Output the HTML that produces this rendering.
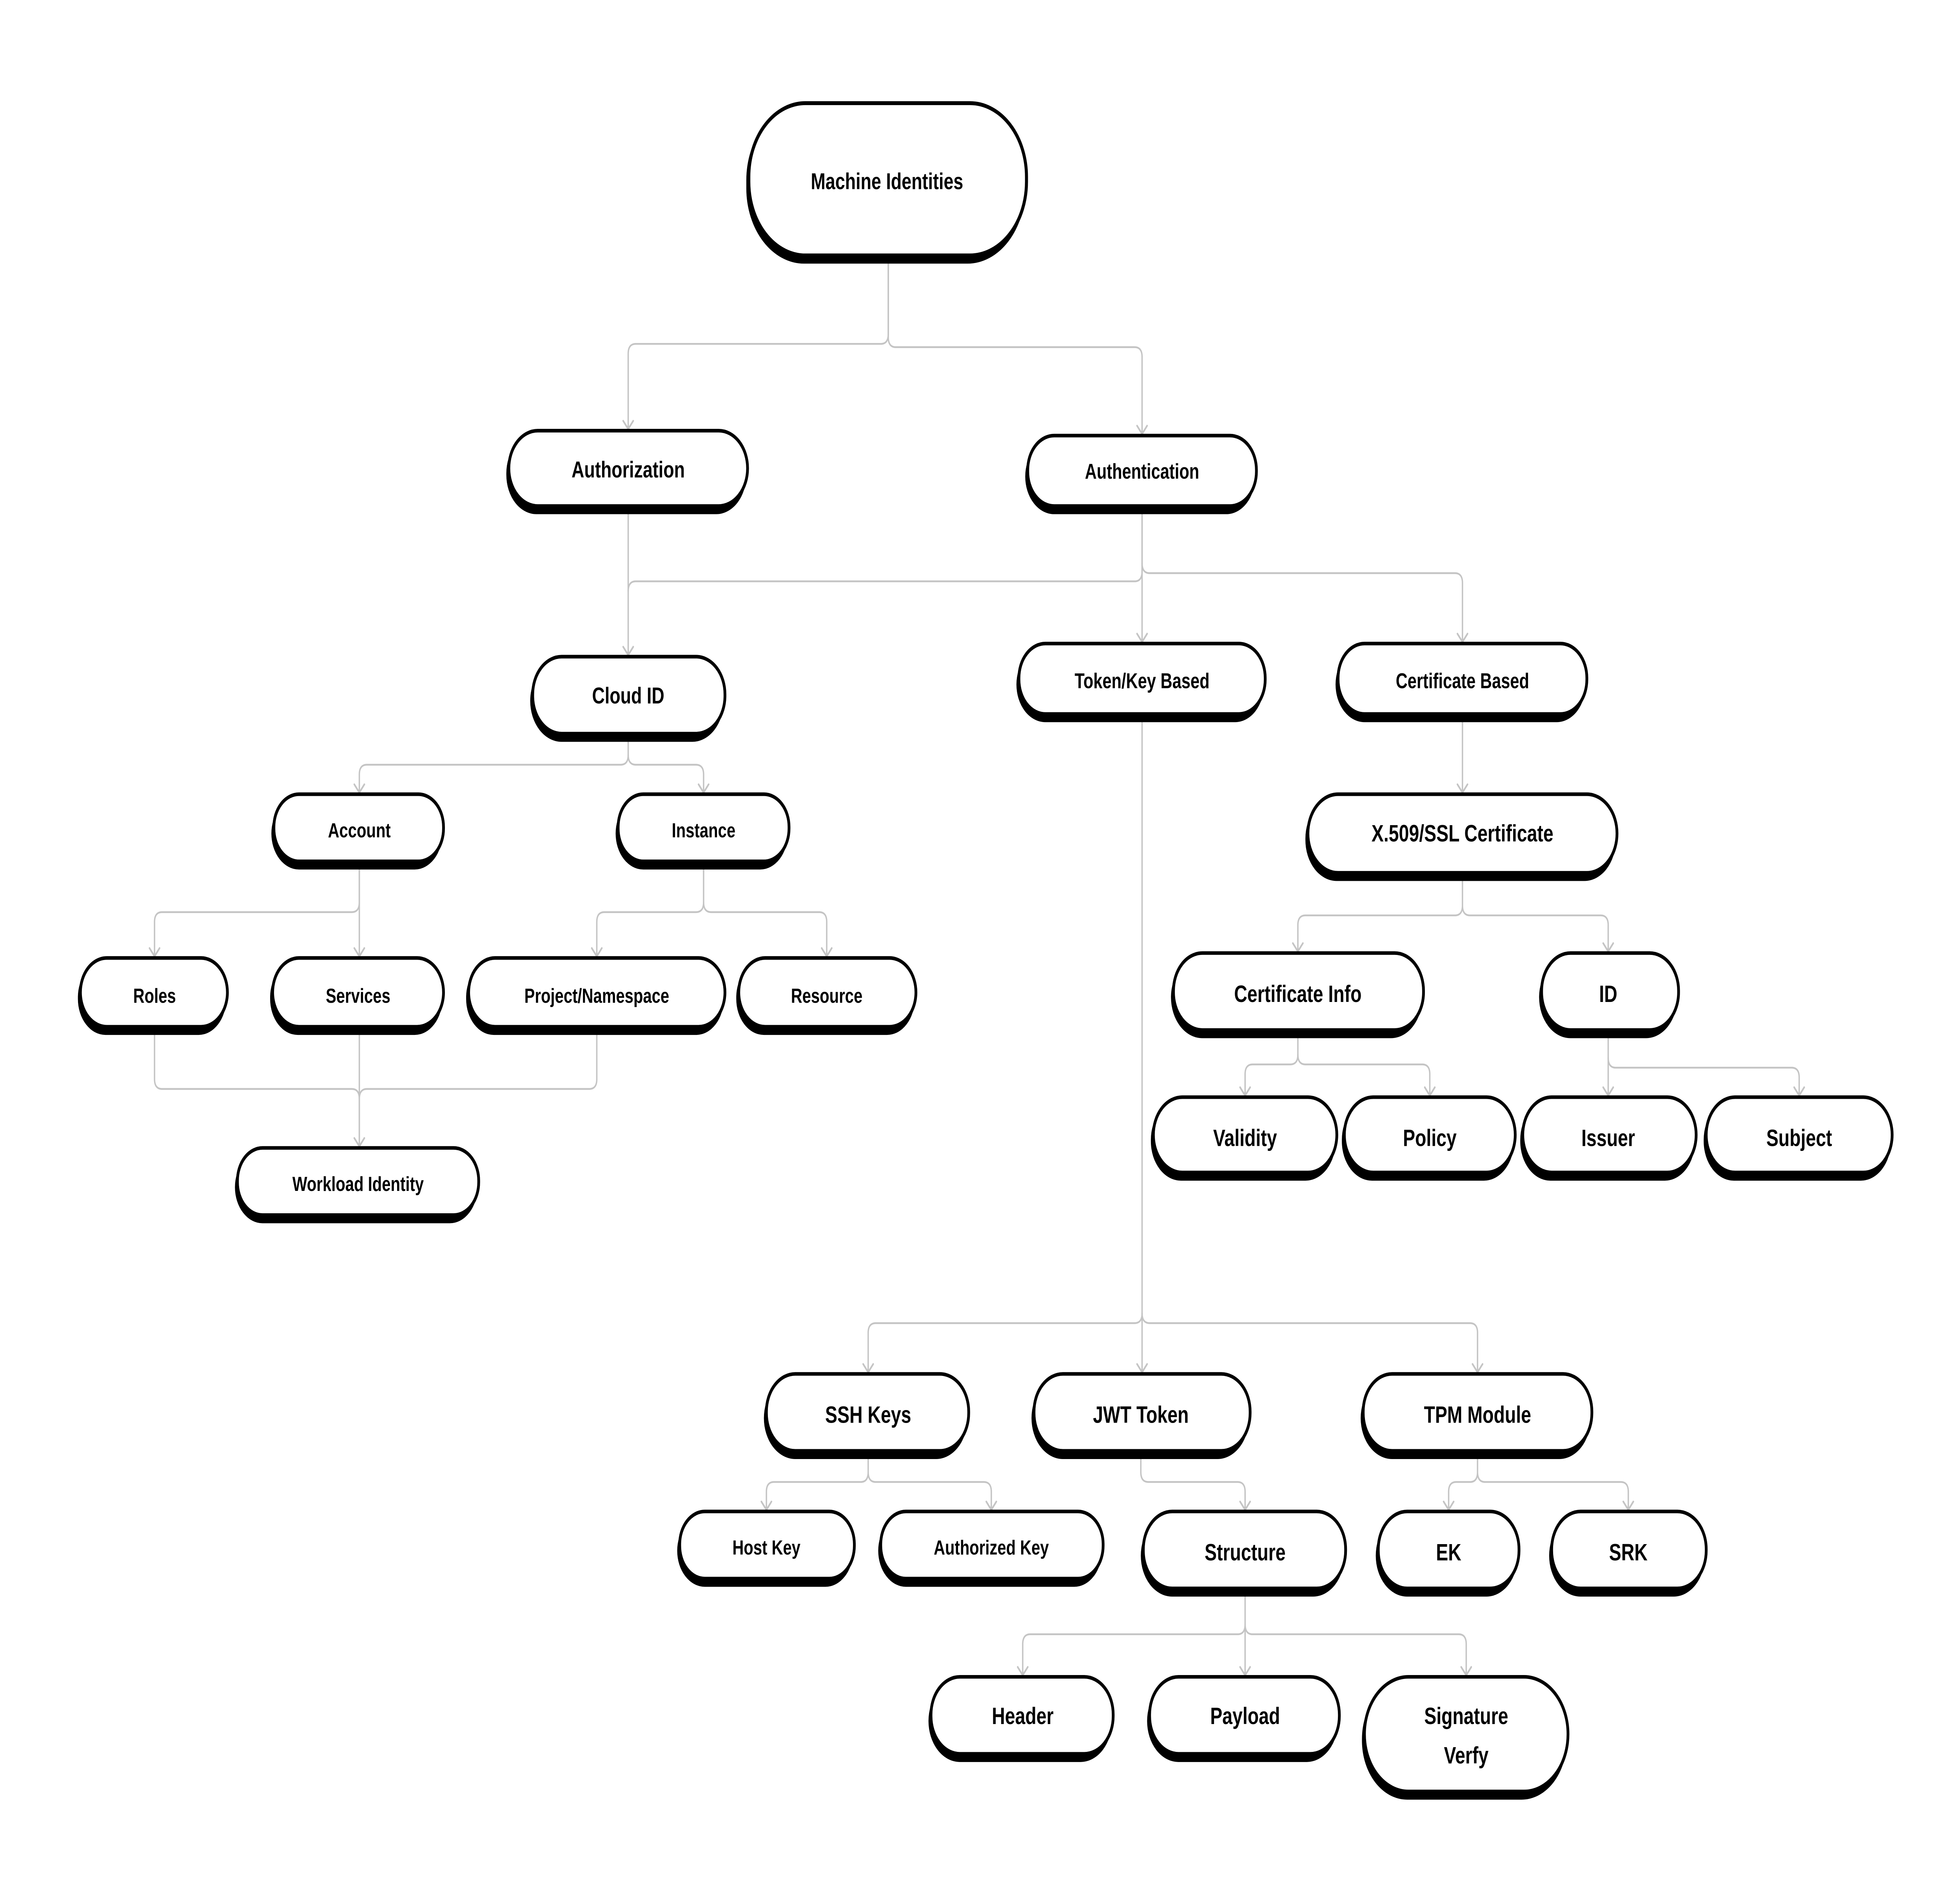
<!DOCTYPE html>
<html><head><meta charset="utf-8"><style>
html,body{margin:0;padding:0;background:#fff;width:100%;height:100%;overflow:hidden;}
svg{display:block;width:100vw;height:100vh;}
text{font-family:"Liberation Sans",sans-serif;font-weight:bold;fill:#000;text-anchor:middle;dominant-baseline:central;}
</style></head><body>
<svg viewBox="0 0 1560 1156" preserveAspectRatio="none" xmlns="http://www.w3.org/2000/svg">
<rect width="1560" height="1156" fill="#fff"/>
<defs>
<symbol id="a" overflow="visible"><polyline points="-4,-5 0,0 4,-5" fill="none" stroke="#c4c4c4" stroke-width="1.2" stroke-linecap="round" stroke-linejoin="round"/></symbol>
</defs>
<g fill="none" stroke="#c4c4c4" stroke-width="1.1" stroke-linecap="round">
<path d="M707 160 V204 Q707 210 701 210 H506 Q500 210 500 216 V262"/>
<path d="M707 160 V206 Q707 212 713 212 H903 Q909 212 909 218 V265"/>
<path d="M500 313 V400"/>
<path d="M909 313 V349 Q909 355 903 355 H506 Q500 355 500 361"/>
<path d="M909 313 V392"/>
<path d="M909 344 Q909 350 915 350 H1158 Q1164 350 1164 356 V392"/>
<path d="M500 452 V461 Q500 467 494 467 H292 Q286 467 286 473 V484"/>
<path d="M500 461 Q500 467 506 467 H554 Q560 467 560 473 V484"/>
<path d="M286 530 V551 Q286 557 280 557 H129 Q123 557 123 563 V584"/>
<path d="M286 530 V584"/>
<path d="M560 530 V551 Q560 557 554 557 H481 Q475 557 475 563 V584"/>
<path d="M560 551 Q560 557 566 557 H652 Q658 557 658 563 V584"/>
<path d="M123 631 V659 Q123 665 129 665 H280 Q286 665 286 671 V700"/>
<path d="M475 631 V659 Q475 665 469 665 H292 Q286 665 286 671"/>
<path d="M286 631 V700"/>
<path d="M909 440 V838"/>
<path d="M909 802 Q909 808 903 808 H697 Q691 808 691 814 V838"/>
<path d="M909 802 Q909 808 915 808 H1170 Q1176 808 1176 814 V838"/>
<path d="M1164 440 V484"/>
<path d="M1164 537 V553 Q1164 559 1158 559 H1039 Q1033 559 1033 565 V581"/>
<path d="M1164 553 Q1164 559 1170 559 H1274 Q1280 559 1280 565 V581"/>
<path d="M1033 633 V644 Q1033 650 1027 650 H997 Q991 650 991 656 V669"/>
<path d="M1033 644 Q1033 650 1039 650 H1132 Q1138 650 1138 656 V669"/>
<path d="M1280 633 V669"/>
<path d="M1280 646 Q1280 652 1286 652 H1426 Q1432 652 1432 658 V669"/>
<path d="M691 890 V899 Q691 905 685 905 H616 Q610 905 610 911 V922"/>
<path d="M691 899 Q691 905 697 905 H783 Q789 905 789 911 V922"/>
<path d="M908 890 V899 Q908 905 914 905 H985 Q991 905 991 911 V922"/>
<path d="M1176 890 V899 Q1176 905 1170 905 H1159 Q1153 905 1153 911 V922"/>
<path d="M1176 899 Q1176 905 1182 905 H1290 Q1296 905 1296 911 V922"/>
<path d="M991 974 V992 Q991 998 985 998 H820 Q814 998 814 1004 V1023"/>
<path d="M991 974 V1023"/>
<path d="M991 992 Q991 998 997 998 H1161 Q1167 998 1167 1004 V1023"/>
</g>
<g>
<use href="#a" x="500" y="262"/><use href="#a" x="909" y="265"/><use href="#a" x="500" y="400"/><use href="#a" x="909" y="392"/><use href="#a" x="1164" y="392"/>
<use href="#a" x="286" y="484"/><use href="#a" x="560" y="484"/><use href="#a" x="123" y="584"/><use href="#a" x="286" y="584"/><use href="#a" x="475" y="584"/><use href="#a" x="658" y="584"/><use href="#a" x="286" y="700"/>
<use href="#a" x="691" y="838"/><use href="#a" x="909" y="838"/><use href="#a" x="1176" y="838"/><use href="#a" x="1164" y="484"/><use href="#a" x="1033" y="581"/><use href="#a" x="1280" y="581"/>
<use href="#a" x="991" y="669"/><use href="#a" x="1138" y="669"/><use href="#a" x="1280" y="669"/><use href="#a" x="1432" y="669"/>
<use href="#a" x="610" y="922"/><use href="#a" x="789" y="922"/><use href="#a" x="991" y="922"/><use href="#a" x="1153" y="922"/><use href="#a" x="1296" y="922"/>
<use href="#a" x="814" y="1023"/><use href="#a" x="991" y="1023"/><use href="#a" x="1167" y="1023"/>
</g>
<g>
<g><rect x="594" y="64" width="222" height="97" rx="46" fill="#000"/><rect x="596" y="63" width="221" height="93" rx="45" fill="#fff" stroke="#000" stroke-width="2.4"/><text x="706" y="111" font-size="14">Machine Identities</text></g>
<g><rect x="403" y="265" width="191" height="49" rx="24" fill="#000"/><rect x="405" y="263" width="190" height="46" rx="23" fill="#fff" stroke="#000" stroke-width="2.2"/><text x="500" y="287" font-size="14">Authorization</text></g>
<g><rect x="816" y="268" width="183" height="46" rx="23" fill="#000"/><rect x="818" y="266" width="182" height="43" rx="21" fill="#fff" stroke="#000" stroke-width="2.2"/><text x="909" y="288" font-size="13">Authentication</text></g>
<g><rect x="422" y="403" width="154" height="50" rx="25" fill="#000"/><rect x="424" y="401" width="153" height="47" rx="23" fill="#fff" stroke="#000" stroke-width="2.2"/><text x="500" y="425" font-size="14">Cloud ID</text></g>
<g><rect x="809" y="395" width="197" height="46" rx="23" fill="#000"/><rect x="811" y="393" width="196" height="43" rx="21" fill="#fff" stroke="#000" stroke-width="2.2"/><text x="909" y="416" font-size="13">Token/Key Based</text></g>
<g><rect x="1063" y="395" width="199" height="46" rx="23" fill="#000"/><rect x="1065" y="393" width="198" height="43" rx="21" fill="#fff" stroke="#000" stroke-width="2.2"/><text x="1164" y="416" font-size="13">Certificate Based</text></g>
<g><rect x="216" y="487" width="136" height="44" rx="22" fill="#000"/><rect x="218" y="485" width="135" height="41" rx="20" fill="#fff" stroke="#000" stroke-width="2.2"/><text x="286" y="507" font-size="12.5">Account</text></g>
<g><rect x="490" y="487" width="137" height="44" rx="22" fill="#000"/><rect x="492" y="485" width="136" height="41" rx="20" fill="#fff" stroke="#000" stroke-width="2.2"/><text x="560" y="507" font-size="12.5">Instance</text></g>
<g><rect x="1039" y="487" width="247" height="51" rx="25" fill="#000"/><rect x="1041" y="485" width="246" height="48" rx="24" fill="#fff" stroke="#000" stroke-width="2.2"/><text x="1164" y="509" font-size="14.5">X.509/SSL Certificate</text></g>
<g><rect x="62" y="587" width="118" height="45" rx="22" fill="#000"/><rect x="64" y="585" width="117" height="42" rx="21" fill="#fff" stroke="#000" stroke-width="2.2"/><text x="123" y="608" font-size="12.5">Roles</text></g>
<g><rect x="215" y="587" width="137" height="45" rx="22" fill="#000"/><rect x="217" y="585" width="136" height="42" rx="21" fill="#fff" stroke="#000" stroke-width="2.2"/><text x="285" y="608" font-size="12.5">Services</text></g>
<g><rect x="371" y="587" width="205" height="45" rx="22" fill="#000"/><rect x="373" y="585" width="204" height="42" rx="21" fill="#fff" stroke="#000" stroke-width="2.2"/><text x="475" y="608" font-size="12.5">Project/Namespace</text></g>
<g><rect x="586" y="587" width="142" height="45" rx="22" fill="#000"/><rect x="588" y="585" width="141" height="42" rx="21" fill="#fff" stroke="#000" stroke-width="2.2"/><text x="658" y="608" font-size="12.5">Resource</text></g>
<g><rect x="932" y="584" width="200" height="50" rx="25" fill="#000"/><rect x="934" y="582" width="199" height="47" rx="23" fill="#fff" stroke="#000" stroke-width="2.2"/><text x="1033" y="607" font-size="14.5">Certificate Info</text></g>
<g><rect x="1225" y="584" width="110" height="50" rx="25" fill="#000"/><rect x="1227" y="582" width="109" height="47" rx="23" fill="#fff" stroke="#000" stroke-width="2.2"/><text x="1280" y="607" font-size="14.5">ID</text></g>
<g><rect x="187" y="703" width="193" height="44" rx="22" fill="#000"/><rect x="189" y="701" width="192" height="41" rx="20" fill="#fff" stroke="#000" stroke-width="2.2"/><text x="285" y="723" font-size="12.5">Workload Identity</text></g>
<g><rect x="916" y="672" width="147" height="49" rx="24" fill="#000"/><rect x="918" y="670" width="146" height="46" rx="23" fill="#fff" stroke="#000" stroke-width="2.2"/><text x="991" y="695" font-size="14.5">Validity</text></g>
<g><rect x="1068" y="672" width="137" height="49" rx="24" fill="#000"/><rect x="1070" y="670" width="136" height="46" rx="23" fill="#fff" stroke="#000" stroke-width="2.2"/><text x="1138" y="695" font-size="14.5">Policy</text></g>
<g><rect x="1210" y="672" width="139" height="49" rx="24" fill="#000"/><rect x="1212" y="670" width="138" height="46" rx="23" fill="#fff" stroke="#000" stroke-width="2.2"/><text x="1280" y="695" font-size="14.5">Issuer</text></g>
<g><rect x="1356" y="672" width="149" height="49" rx="24" fill="#000"/><rect x="1358" y="670" width="148" height="46" rx="23" fill="#fff" stroke="#000" stroke-width="2.2"/><text x="1432" y="695" font-size="14.5">Subject</text></g>
<g><rect x="608" y="841" width="162" height="50" rx="25" fill="#000"/><rect x="610" y="839" width="161" height="47" rx="23" fill="#fff" stroke="#000" stroke-width="2.2"/><text x="691" y="864" font-size="14.5">SSH Keys</text></g>
<g><rect x="821" y="841" width="173" height="50" rx="25" fill="#000"/><rect x="823" y="839" width="172" height="47" rx="23" fill="#fff" stroke="#000" stroke-width="2.2"/><text x="908" y="864" font-size="14.5">JWT Token</text></g>
<g><rect x="1083" y="841" width="183" height="50" rx="25" fill="#000"/><rect x="1085" y="839" width="182" height="47" rx="23" fill="#fff" stroke="#000" stroke-width="2.2"/><text x="1176" y="864" font-size="14.5">TPM Module</text></g>
<g><rect x="539" y="925" width="140" height="44" rx="22" fill="#000"/><rect x="541" y="923" width="139" height="41" rx="20" fill="#fff" stroke="#000" stroke-width="2.2"/><text x="610" y="945" font-size="12.5">Host Key</text></g>
<g><rect x="699" y="925" width="178" height="44" rx="22" fill="#000"/><rect x="701" y="923" width="177" height="41" rx="20" fill="#fff" stroke="#000" stroke-width="2.2"/><text x="789" y="945" font-size="12.5">Authorized Key</text></g>
<g><rect x="908" y="925" width="162" height="50" rx="25" fill="#000"/><rect x="910" y="923" width="161" height="47" rx="23" fill="#fff" stroke="#000" stroke-width="2.2"/><text x="991" y="948" font-size="14.5">Structure</text></g>
<g><rect x="1095" y="925" width="113" height="50" rx="25" fill="#000"/><rect x="1097" y="923" width="112" height="47" rx="23" fill="#fff" stroke="#000" stroke-width="2.2"/><text x="1153" y="948" font-size="14.5">EK</text></g>
<g><rect x="1233" y="925" width="124" height="50" rx="25" fill="#000"/><rect x="1235" y="923" width="123" height="47" rx="23" fill="#fff" stroke="#000" stroke-width="2.2"/><text x="1296" y="948" font-size="14.5">SRK</text></g>
<g><rect x="739" y="1026" width="146" height="50" rx="25" fill="#000"/><rect x="741" y="1024" width="145" height="47" rx="23" fill="#fff" stroke="#000" stroke-width="2.2"/><text x="814" y="1048" font-size="14.5">Header</text></g>
<g><rect x="913" y="1026" width="152" height="50" rx="25" fill="#000"/><rect x="915" y="1024" width="151" height="47" rx="23" fill="#fff" stroke="#000" stroke-width="2.2"/><text x="991" y="1048" font-size="14.5">Payload</text></g>
<g><rect x="1084" y="1026" width="163" height="73" rx="36" fill="#000"/><rect x="1086" y="1024" width="162" height="70" rx="35" fill="#fff" stroke="#000" stroke-width="2.2"/><text x="1167" y="1048" font-size="14.5">Signature</text><text x="1167" y="1072" font-size="14.5">Verfy</text></g>
</g>
</svg>
</body></html>
